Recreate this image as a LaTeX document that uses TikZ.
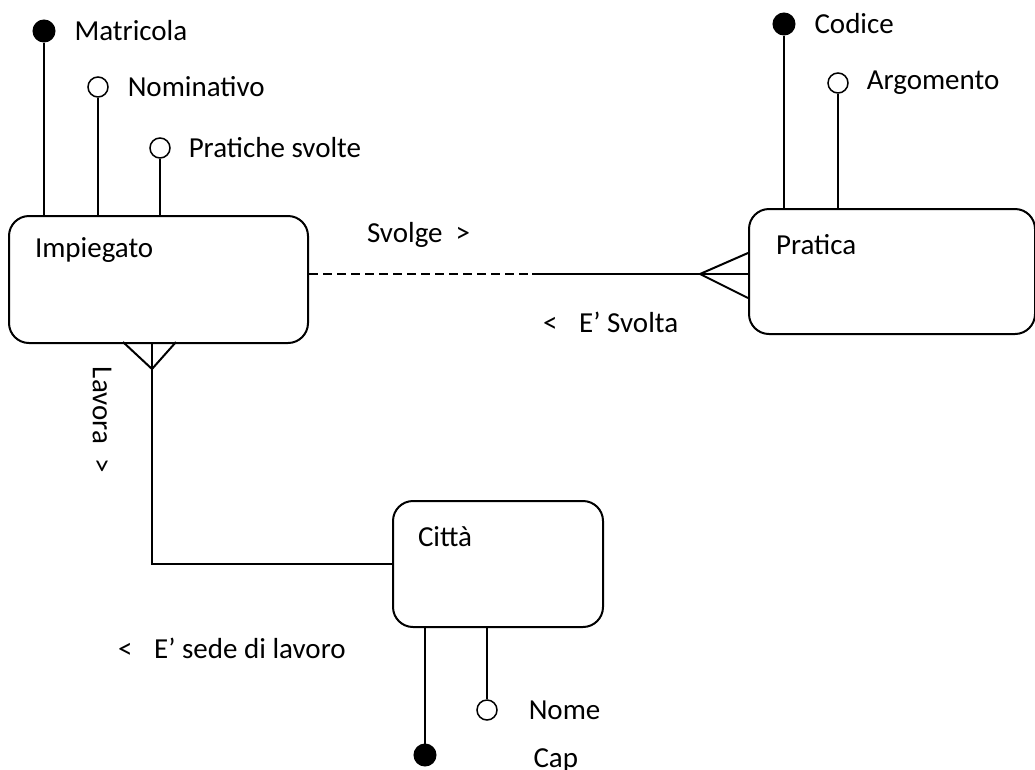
\documentclass[tikz,border=0pt]{standalone}
\usepackage{fontspec}
\setmainfont{Carlito}
\usetikzlibrary{positioning}
\tikzset{
	node_entity/.style = {
		rectangle,
		rounded corners=20pt,
		draw=black,
		line width=2pt,
		inner sep=0pt,
		anchor=north west
	},
	node_name/.style = {
		inner sep=0pt,
		anchor=west
	},
	node_key/.style = {
		circle,
		draw=black,
		fill=black,
		inner sep=0pt,
		minimum size=21pt
	},
	node_attr/.style = {
		node_key,
		fill=white,
		line width=1.5pt,
		minimum size=20pt
	},
	node_label/.style = {
		inner sep=0pt
	},
}

\begin{document}
\begin{tikzpicture}[x=1pt,y=-1pt,line width=2pt,font=\fontsize{29}{35}\selectfont,node distance=20pt]
\useasboundingbox (0,0) rectangle (1035,769);

% entities
\node [node_entity, minimum width=299pt, minimum height=127pt] (imp) at (8,215) {};
\node [node_entity, minimum width=286pt, minimum height=125pt] (pra) at (748,208) {};
\node [node_entity, minimum width=210pt, minimum height=126pt] (cit) at (392,500) {};
\node [node_name] (imp_name) at (34,250) {Impiegato};
\node [node_name] (pra_name) at (775,245) {Pratica};
\node [node_name] (cit_name) at (417,537) {Città};

% attributes
\node [node_key] (matr) at (44,31) {};
\node [node_attr] (nomin) at (98,87) {};
\node [node_attr] (prsv) at (160,148) {};
\node [node_key] (cod) at (784,24) {};
\node [node_attr] (arg) at (838,83) {};
\node [node_attr] (nome) at (487,710) {};
\node [node_key] (cap) at (425,755) {};
\node [node_label, right=18pt of matr] {Matricola};
\node [node_label, right=18pt of nomin] {Nominativo};
\node [node_label, right=17pt of prsv] {Pratiche svolte};
\node [node_label, right=18pt of cod] {Codice};
\node [node_label, right=17pt of arg] {Argomento};
\node [node_label, right=30pt of nome] {Nome};
\node [node_label, right=96pt of cap, yshift=-5pt] {Cap};

\draw (matr.south) -- (matr.south |- imp.north);
\draw (nomin.south) -- (nomin.south |- imp.north);
\draw (prsv.south) -- (prsv.south |- imp.north);
\draw (cod.south) -- (cod.south |- pra.north);
\draw (arg.south) -- (arg.south |- pra.north);
\draw (nome.north) -- (nome.north |- cit.south);
\draw (cap.north) -- (cap.north |- cit.south);

% Svolge
\coordinate (svolge_mid) at (532,274);
\coordinate (crow_pra) at (700,274);
\coordinate (crow_pra_t) at (748,253);
\coordinate (crow_pra_b) at (748,298);
\draw [dash pattern=on 9pt off 5pt] (imp.east |- svolge_mid) -- (svolge_mid);
\draw (svolge_mid) -- (pra.west |- svolge_mid);
\draw (crow_pra_t) -- (crow_pra) -- (crow_pra_b);
\node [node_name] (svolge) at (366,235) {Svolge\ \ >};
\node [node_name] (svolta) at (542,322) {<\hspace{0.75em}E’ Svolta};

% Lavora
\coordinate (crow_imp) at (152,369);
\coordinate (crow_imp_l) at (123,342);
\coordinate (crow_imp_r) at (176,342);
\draw (imp.south -| crow_imp) -- (crow_imp |- cit.west) -- (cit.west);
\draw (crow_imp_l) -- (crow_imp) -- (crow_imp_r);
\node [node_label, rotate=-90] (lavora) at (102,420) {Lavora\hspace{0.5em}>};
\node [node_name] (sede) at (117,648) {<\hspace{0.75em}E’ sede di lavoro};
\end{tikzpicture}
\end{document}
